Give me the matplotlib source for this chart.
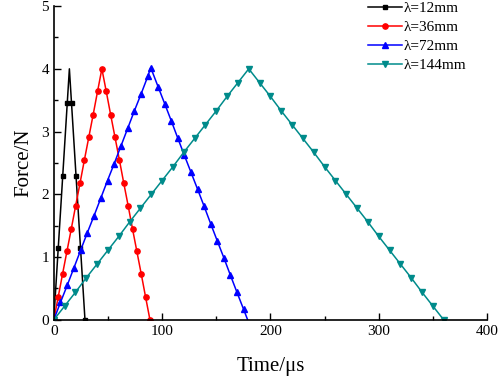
import matplotlib
matplotlib.use('Agg')
import matplotlib.pyplot as plt
from matplotlib.ticker import MultipleLocator

# lambda = 12 mm (peak point drawn without a marker)
t12 = [0, 4.14, 8.28, 12.42, 14.4, 16.38, 20.52, 24.66, 28.8]
f12 = [0, 1.15, 2.30, 3.45, 4.0, 3.45, 2.30, 1.15, 0]
mark12 = [0, 1, 2, 3, 5, 6, 7, 8]

# lambda = 36 mm
t36 = [0, 4.04, 8.08, 12.12, 16.16, 20.2, 24.24, 28.28, 32.32, 36.36, 40.4, 44.4,
       48.44, 52.48, 56.52, 60.56, 64.6, 68.64, 72.68, 76.72, 80.76, 84.8, 88.8]
f36 = [0, 0.36, 0.73, 1.09, 1.45, 1.82, 2.18, 2.55, 2.91, 3.27, 3.64, 4.0,
       3.64, 3.27, 2.91, 2.55, 2.18, 1.82, 1.45, 1.09, 0.73, 0.36, 0]

# lambda = 72 mm (end point drawn without a marker)
t72 = [0, 6.2, 12.4, 18.6, 24.8, 31.0, 37.2, 43.4, 49.6, 55.8, 62.0, 68.2, 74.4, 80.6, 86.8,
       89.5, 96.4, 102.5, 108.5, 114.6, 120.6, 126.7, 132.8, 138.8, 144.9, 150.9, 157.0,
       163.1, 169.1, 175.2, 179.0]
f72 = [0, 0.28, 0.55, 0.83, 1.11, 1.39, 1.66, 1.94, 2.22, 2.49, 2.77, 3.05, 3.33, 3.60, 3.88,
       4.02, 3.71, 3.44, 3.17, 2.89, 2.62, 2.35, 2.08, 1.81, 1.53, 1.26, 0.99,
       0.71, 0.44, 0.17, 0]
mark72 = list(range(len(t72) - 1))

# lambda = 144 mm
t144 = [0, 10, 20, 30, 40, 50, 60, 70, 80, 90, 100, 110, 120, 130, 140, 150, 160, 170, 180,
        190, 200, 210, 220, 230, 240, 250, 260, 270, 280, 290, 300, 310, 320, 330, 340, 350, 360]
f144 = [0, 0.22, 0.44, 0.67, 0.89, 1.11, 1.33, 1.56, 1.78, 2.0, 2.22, 2.44, 2.67, 2.89, 3.11,
        3.33, 3.56, 3.78, 4.0,
        3.78, 3.56, 3.33, 3.11, 2.89, 2.67, 2.44, 2.22, 2.0, 1.78, 1.56, 1.33, 1.11, 0.89,
        0.67, 0.44, 0.22, 0]

plt.rcParams['font.family'] = ['Liberation Serif', 'DejaVu Serif']

fig = plt.figure(figsize=(4.98, 3.79), dpi=100)
ax = fig.add_axes([0.108, 0.156, 0.870, 0.828])

ax.plot(t12, f12, color='black', marker='s', ms=3.2, lw=1.1, markevery=mark12, label='λ=12mm')
ax.plot(t36, f36, color='red', marker='o', ms=3.8, lw=1.1, label='λ=36mm')
ax.plot(t72, f72, color='blue', marker='^', ms=4, lw=1.1, markevery=mark72, label='λ=72mm')
ax.plot(t144, f144, color='#008B8B', marker='v', ms=4, lw=1.1, label='λ=144mm')

ax.set_xlim(0, 400)
ax.set_ylim(0, 5)
ax.xaxis.set_major_locator(MultipleLocator(100))
ax.xaxis.set_minor_locator(MultipleLocator(50))
ax.yaxis.set_major_locator(MultipleLocator(1))
ax.yaxis.set_minor_locator(MultipleLocator(0.5))
ax.tick_params(which='both', direction='in', labelsize=11, width=1)
ax.tick_params(which='major', length=5)
ax.tick_params(which='minor', length=3)
ax.spines['top'].set_visible(False)
ax.spines['right'].set_visible(False)
ax.spines['left'].set_linewidth(1.2)
ax.spines['bottom'].set_linewidth(1.2)

ax.set_xlabel('Time/μs', fontsize=15, labelpad=14)
ax.set_ylabel('Force/N', fontsize=15, labelpad=6)

ax.legend(loc='upper right', frameon=False, fontsize=11, handlelength=2.2,
          labelspacing=0.35, handletextpad=0.1, borderaxespad=0.0,
          bbox_to_anchor=(0.965, 1.035))

fig.savefig('out.png', dpi=100)
